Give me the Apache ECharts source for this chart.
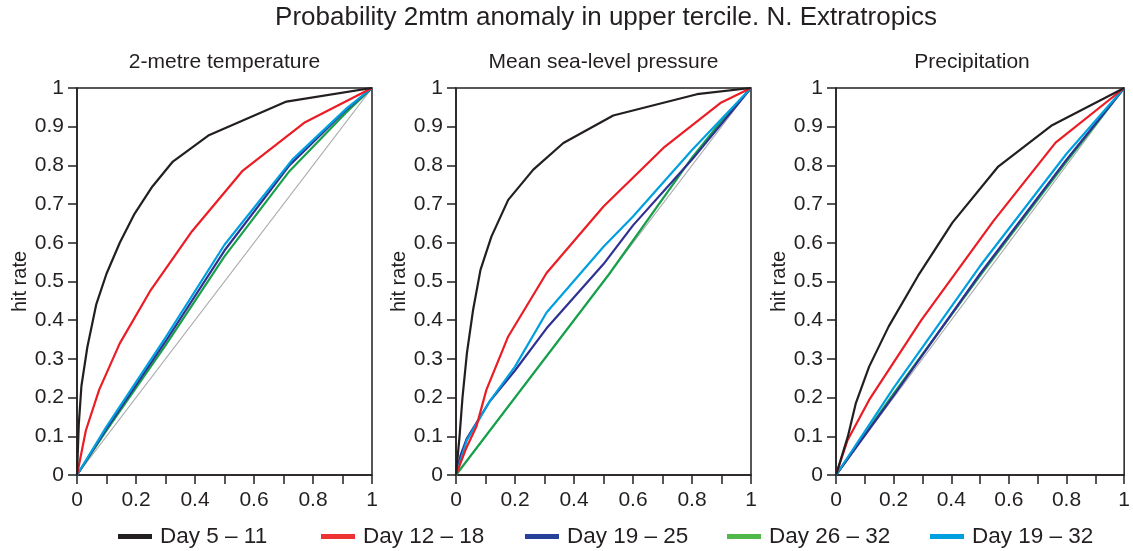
<!DOCTYPE html>
<html><head><meta charset="utf-8">
<script src="https://cdn.jsdelivr.net/npm/echarts@6/dist/echarts.min.js"></script>
<style>html,body{margin:0;padding:0;background:#fff}#c{width:1133px;height:551px}</style>
</head><body><div id="c"></div>
<script>
const mainTitle = 'Probability 2mtm anomaly in upper tercile. N. Extratropics';
const panelTitles = ['2-metre temperature', 'Mean sea-level pressure', 'Precipitation'];
const seriesNames = ['Day 5 – 11', 'Day 12 – 18', 'Day 19 – 25', 'Day 26 – 32', 'Day 19 – 32'];
const xTickValues = [0, 0.2, 0.4, 0.6, 0.8, 1];
const yTickValues = [0, 0.1, 0.2, 0.3, 0.4, 0.5, 0.6, 0.7, 0.8, 0.9, 1];
const diagonal = [[0, 0], [1, 1]];

// 2-metre temperature
const t2m_d5_11 = [[0,0],[0.006,0.13],[0.015,0.23],[0.035,0.33],[0.065,0.44],[0.1,0.52],[0.145,0.6],[0.195,0.675],[0.255,0.745],[0.325,0.81],[0.445,0.877],[0.71,0.965],[1,1]];
const t2m_d12_18 = [[0,0],[0.03,0.115],[0.075,0.22],[0.145,0.34],[0.25,0.478],[0.39,0.63],[0.56,0.785],[0.77,0.91],[1,1]];
const t2m_d19_25 = [[0,0],[0.1,0.12],[0.3,0.345],[0.5,0.58],[0.72,0.8],[0.91,0.942],[1,1]];
const t2m_d26_32 = [[0,0],[0.1,0.115],[0.3,0.335],[0.5,0.565],[0.72,0.785],[0.91,0.935],[1,1]];
const t2m_d19_32 = [[0,0],[0.1,0.125],[0.3,0.355],[0.5,0.595],[0.73,0.815],[0.915,0.948],[1,1]];

// Mean sea-level pressure
const mslp_d5_11 = [[0,0],[0.012,0.1],[0.022,0.2],[0.037,0.315],[0.058,0.427],[0.083,0.53],[0.12,0.616],[0.177,0.711],[0.262,0.789],[0.364,0.858],[0.533,0.929],[0.817,0.984],[1,1]];
const mslp_d12_18 = [[0,0],[0.035,0.07],[0.069,0.125],[0.103,0.22],[0.177,0.358],[0.307,0.522],[0.5,0.694],[0.703,0.845],[0.896,0.961],[1,1]];
const mslp_d19_25 = [[0,0],[0.015,0.05],[0.037,0.095],[0.114,0.19],[0.2,0.27],[0.307,0.379],[0.5,0.545],[0.6,0.645],[0.8,0.815],[1,1]];
const mslp_d26_32 = [[0,0],[0.52,0.52],[0.8,0.82],[0.9,0.915],[1,1]];
const mslp_d19_32 = [[0,0],[0.037,0.09],[0.114,0.19],[0.2,0.28],[0.307,0.42],[0.5,0.59],[0.6,0.668],[0.8,0.84],[1,1]];

// Precipitation
const pr_d5_11 = [[0,0],[0.041,0.099],[0.069,0.186],[0.115,0.28],[0.183,0.384],[0.285,0.515],[0.404,0.652],[0.563,0.797],[0.75,0.904],[1,1]];
const pr_d12_18 = [[0,0],[0.04,0.09],[0.115,0.194],[0.296,0.4],[0.546,0.656],[0.762,0.859],[1,1]];
const pr_d19_25 = [[0,0],[0.2,0.205],[0.5,0.52],[0.8,0.815],[1,1]];
const pr_d26_32 = [[0,0],[0.2,0.21],[0.5,0.515],[0.8,0.81],[1,1]];
const pr_d19_32 = [[0,0],[0.2,0.225],[0.5,0.54],[0.8,0.83],[1,1]];

const panelData = [
  [t2m_d5_11, t2m_d12_18, t2m_d19_25, t2m_d26_32, t2m_d19_32],
  [mslp_d5_11, mslp_d12_18, mslp_d19_25, mslp_d26_32, mslp_d19_32],
  [pr_d5_11, pr_d12_18, pr_d19_25, pr_d26_32, pr_d19_32]
];

const lineColors = ['#231f20', '#ec1c24', '#2e3192', '#17a04a', '#00a0e0'];
const legendColors = ['#231f20', '#ee3131', '#27419a', '#50b848', '#00a0e0'];
const drawOrder = [3, 2, 4, 1, 0];
const FONT = 'Liberation Sans, Arial, sans-serif';
const INK = '#231f20';

const grids = [
  {left: 77, width: 295, top: 88, height: 387},
  {left: 456, width: 295, top: 88, height: 387},
  {left: 836, width: 294, top: 88, height: 387}
];
const subCenters = [224.5, 603.5, 972];
const legendLeft = [118, 321, 525, 727, 930];

const fmt = v => { const r = Math.round(v * 10) / 10; return r === 0 ? '0' : r === 1 ? '1' : String(r); };

const option = {
  animation: false,
  backgroundColor: '#fff',
  textStyle: {fontFamily: FONT},
  grid: grids.map(g => Object.assign({show: true, borderColor: INK, borderWidth: 1.5, backgroundColor: 'transparent'}, g)),
  xAxis: grids.map((g, i) => ({
    gridIndex: i, type: 'value', min: 0, max: 1, interval: 0.1,
    axisLine: {show: true, lineStyle: {color: INK, width: 1.5}},
    axisTick: {show: true, inside: false, length: 9, lineStyle: {color: INK, width: 1.5}},
    axisLabel: {color: INK, fontSize: 21, fontFamily: FONT, margin: 15,
      formatter: v => { const r = Math.round(v * 10) / 10; return xTickValues.some(t => Math.abs(t - r) < 1e-6) ? fmt(r) : ''; }},
    splitLine: {show: false}
  })),
  yAxis: grids.map((g, i) => ({
    gridIndex: i, type: 'value', min: 0, max: 1, interval: 0.1,
    name: 'hit rate', nameLocation: 'middle', nameGap: 46,
    nameTextStyle: {color: INK, fontSize: 20, fontFamily: FONT},
    axisLine: {show: true, lineStyle: {color: INK, width: 1.5}},
    axisTick: {show: true, inside: false, length: 9, lineStyle: {color: INK, width: 1.5}},
    axisLabel: {color: INK, fontSize: 21, fontFamily: FONT, margin: 13,
      formatter: v => { const r = Math.round(v * 10) / 10; return yTickValues.some(t => Math.abs(t - r) < 1e-6) ? fmt(r) : ''; }},
    splitLine: {show: false}
  })),
  legend: seriesNames.map((n, i) => ({
    data: [{name: n, icon: 'rect', itemStyle: {color: legendColors[i]}}],
    left: legendLeft[i], top: 525, padding: 0, itemWidth: 34, itemHeight: 5, itemGap: 0,
    selectedMode: false,
    textStyle: {color: INK, fontSize: 22.5, fontFamily: FONT, padding: [0, 0, 0, 3]}
  })),
  graphic: [
    {type: 'text', x: 606, y: 18, style: {text: mainTitle, fill: INK, font: '26px ' + FONT, textAlign: 'center', textVerticalAlign: 'middle'}}
  ].concat(panelTitles.map((t, i) => ({
    type: 'text', x: subCenters[i], y: 62,
    style: {text: t, fill: INK, font: '21px ' + FONT, textAlign: 'center', textVerticalAlign: 'middle'}
  }))),
  series: []
};

panelData.forEach((arr, gi) => {
  option.series.push({
    type: 'line', name: 'diagonal', xAxisIndex: gi, yAxisIndex: gi, data: diagonal,
    showSymbol: false, silent: true, lineStyle: {color: '#a7a9ac', width: 1.2}, z: 1
  });
  drawOrder.forEach(si => {
    option.series.push({
      type: 'line', name: seriesNames[si], xAxisIndex: gi, yAxisIndex: gi, data: arr[si],
      showSymbol: false, symbol: 'none', lineStyle: {color: lineColors[si], width: 2.2},
      itemStyle: {color: lineColors[si]}, z: 2
    });
  });
});

const chart = echarts.init(document.getElementById('c'), null, {renderer: 'canvas'});
chart.setOption(option);
</script>
</body></html>
